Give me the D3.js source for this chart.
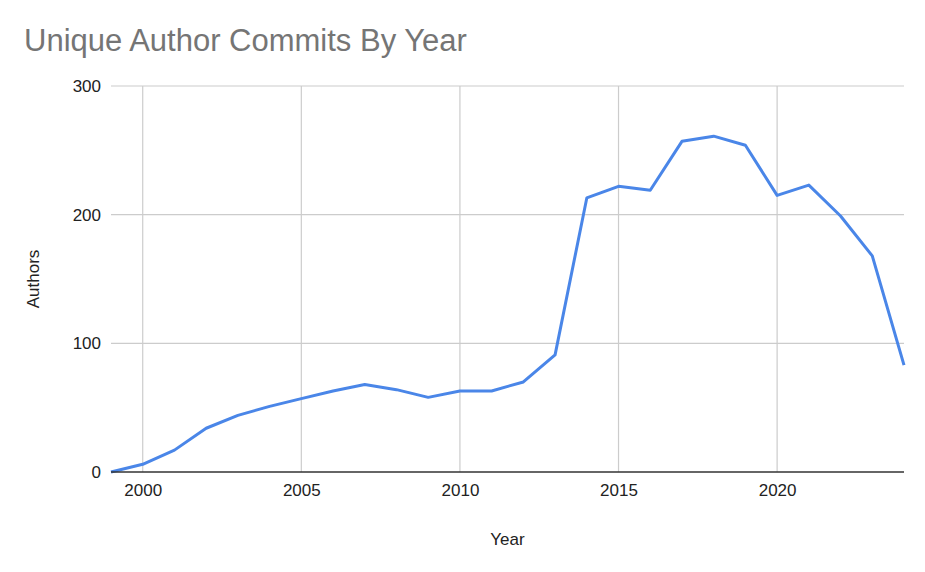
<!DOCTYPE html>
<html>
<head>
<meta charset="utf-8">
<script src="https://cdn.jsdelivr.net/npm/d3@7"></script>
<style>
  html, body { margin: 0; padding: 0; background: #fff; }
  svg { display: block; font-family: Arial, "Liberation Sans", sans-serif; }
</style>
</head>
<body>
<svg id="chart" width="925" height="572"></svg>
<script>
const years = [1999,2000,2001,2002,2003,2004,2005,2006,2007,2008,2009,2010,2011,2012,2013,2014,2015,2016,2017,2018,2019,2020,2021,2022,2023,2024];
const authors = [0,6,17,34,44,51,57,63,68,64,58,63,63,70,91,213,222,219,257,261,254,215,223,199,168,83];
const xTicks = [2000,2005,2010,2015,2020];
const yTicks = [0,100,200,300];

const FONT = 'Arial, "Liberation Sans", sans-serif';
const svg = d3.select("#chart");
const margin = {left: 111, right: 21, top: 86, bottom: 100};
const W = 925, H = 572;

const x = d3.scaleLinear().domain([1999, 2024]).range([margin.left, W - margin.right]);
const y = d3.scaleLinear().domain([0, 300]).range([H - margin.bottom, margin.top]);

// title
svg.append("text").attr("x", 24).attr("y", 51)
  .attr("font-size", 31).attr("fill", "#757575").attr("font-family", FONT)
  .text("Unique Author Commits By Year");

// y axis labels
const yAxis = d3.axisLeft(y).tickValues(yTicks).tickSize(0).tickPadding(10);
const gy = svg.append("g").attr("transform", `translate(${margin.left},0)`).call(yAxis);
gy.select(".domain").remove();
gy.selectAll("text").attr("font-size", 17).attr("fill", "#222").attr("font-family", FONT);

// horizontal grid
svg.append("g").selectAll("line").data(yTicks.filter(d => d > 0)).join("line")
  .attr("x1", margin.left).attr("x2", W - margin.right)
  .attr("y1", d => y(d)).attr("y2", d => y(d))
  .attr("stroke", "#cccccc").attr("stroke-width", 1.2);

// vertical grid
svg.append("g").selectAll("line").data(xTicks).join("line")
  .attr("x1", d => x(d)).attr("x2", d => x(d))
  .attr("y1", margin.top).attr("y2", y(0))
  .attr("stroke", "#cccccc").attr("stroke-width", 1.2);

// x axis labels
const xAxis = d3.axisBottom(x).tickValues(xTicks).tickFormat(d3.format("d")).tickSize(0).tickPadding(12);
const gx = svg.append("g").attr("transform", `translate(0,${y(0)})`).call(xAxis);
gx.select(".domain").remove();
gx.selectAll("text").attr("font-size", 17).attr("fill", "#222").attr("font-family", FONT);

// line
const line = d3.line().x((d, i) => x(years[i])).y(d => y(d));
svg.append("path").datum(authors)
  .attr("d", line).attr("fill", "none")
  .attr("stroke", "#4a86e8").attr("stroke-width", 3)
  .attr("stroke-linejoin", "round");

// baseline
svg.append("line").attr("x1", margin.left).attr("x2", W - margin.right)
  .attr("y1", y(0)).attr("y2", y(0)).attr("stroke", "#333").attr("stroke-width", 1.5);

// axis titles
svg.append("text").attr("x", (margin.left + W - margin.right) / 2).attr("y", 545)
  .attr("text-anchor", "middle").attr("font-size", 17).attr("fill", "#222")
  .attr("font-family", FONT).text("Year");
svg.append("text").attr("transform", `translate(39,${(margin.top + y(0)) / 2}) rotate(-90)`)
  .attr("text-anchor", "middle").attr("font-size", 17).attr("fill", "#222")
  .attr("font-family", FONT).text("Authors");
</script>
</body>
</html>
